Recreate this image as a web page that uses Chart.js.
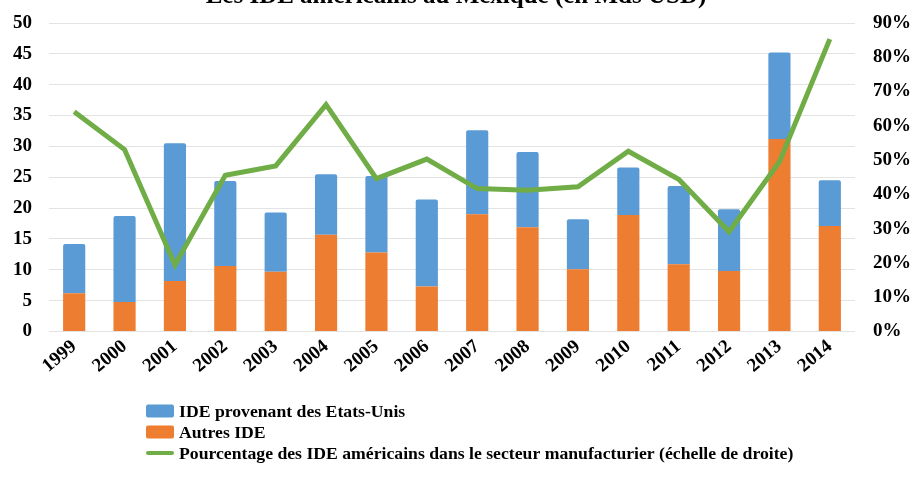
<!DOCTYPE html>
<html>
<head>
<meta charset="utf-8">
<script src="https://cdn.jsdelivr.net/npm/chart.js@4.4.1/dist/chart.umd.min.js"></script>
<style>
  html, body { margin: 0; padding: 0; background: #ffffff; overflow: hidden; }
  #wrap { position: absolute; left: 0; top: -13px; width: 912px; height: 490px; }
</style>
</head>
<body>
<div id="wrap"><canvas id="c"></canvas></div>
<script>
const years = ['1999','2000','2001','2002','2003','2004','2005','2006','2007','2008','2009','2010','2011','2012','2013','2014'];
const autresIDE = [6.2, 4.8, 8.2, 10.6, 9.7, 15.7, 12.8, 7.3, 19.0, 16.9, 10.1, 18.9, 10.9, 9.8, 31.2, 17.1];
const ideEtatsUnis = [8.0, 13.9, 22.3, 13.8, 9.6, 9.8, 12.4, 14.1, 13.6, 12.2, 8.1, 7.7, 12.7, 10.0, 14.0, 7.4];
const pctManufacturier = [64.1, 53.1, 19.4, 45.6, 48.3, 66.2, 44.6, 50.3, 41.7, 41.2, 42.2, 52.6, 44.4, 29.1, 49.5, 85.3];
const leftTicks = [0, 5, 10, 15, 20, 25, 30, 35, 40, 45, 50];
const rightTicks = [0, 10, 20, 30, 40, 50, 60, 70, 80, 90];
const titleText = 'Les IDE américains au Mexique (en Mds USD)';
const legendLabels = [
  'IDE provenant des Etats-Unis',
  'Autres IDE',
  'Pourcentage des IDE américains dans le secteur manufacturier (échelle de droite)'
];

const BLUE = '#5B9BD5', ORANGE = '#ED7D31', GREEN = '#70AD47';
const FONT = "'Liberation Serif', 'Times New Roman', serif";

const legendPlugin = {
  id: 'vertLegend',
  afterDraw(chart) {
    const ctx = chart.ctx;
    const items = [
      { text: legendLabels[0], color: BLUE, type: 'box' },
      { text: legendLabels[1], color: ORANGE, type: 'box' },
      { text: legendLabels[2], color: GREEN, type: 'line' }
    ];
    const x0 = 146, boxW = 28, boxH = 13;
    const ys = [chart.chartArea.bottom + 79.5, chart.chartArea.bottom + 100.5, chart.chartArea.bottom + 121.5];
    ctx.save();
    ctx.font = 'bold 17.7px ' + FONT;
    ctx.textBaseline = 'middle';
    ctx.textAlign = 'left';
    items.forEach((it, i) => {
      const y = ys[i];
      ctx.fillStyle = it.color;
      if (it.type === 'box') {
        ctx.beginPath();
        ctx.roundRect(x0, y - boxH / 2, boxW, boxH, 2);
        ctx.fill();
      } else {
        ctx.beginPath();
        ctx.roundRect(x0, y - 2, boxW, 4, 2);
        ctx.fill();
      }
      ctx.fillStyle = '#000000';
      ctx.fillText(it.text, x0 + boxW + 5, y + 1);
    });
    ctx.restore();
  }
};

new Chart(document.getElementById('c'), {
  data: {
    labels: years,
    datasets: [
      {
        type: 'line',
        label: legendLabels[2],
        data: pctManufacturier,
        yAxisID: 'y1',
        borderColor: GREEN,
        backgroundColor: GREEN,
        borderWidth: 5,
        pointRadius: 0,
        tension: 0,
        order: 0
      },
      {
        type: 'bar',
        label: legendLabels[1],
        data: autresIDE,
        yAxisID: 'y',
        backgroundColor: ORANGE,
        stack: 's',
        categoryPercentage: 1,
        barPercentage: 0.44,
        order: 1
      },
      {
        type: 'bar',
        label: legendLabels[0],
        data: ideEtatsUnis,
        yAxisID: 'y',
        backgroundColor: BLUE,
        stack: 's',
        categoryPercentage: 1,
        barPercentage: 0.44,
        borderRadius: { topLeft: 2, topRight: 2 },
        borderSkipped: 'bottom',
        order: 1
      }
    ]
  },
  options: {
    responsive: true,
    maintainAspectRatio: false,
    animation: false,
    layout: { padding: 0 },
    plugins: {
      legend: { display: false },
      tooltip: { enabled: false },
      title: {
        display: true,
        text: titleText,
        color: '#000000',
        font: { family: FONT, size: 25, weight: 'bold', lineHeight: 0.768 },
        padding: { top: 0, bottom: 16.8 }
      }
    },
    scales: {
      x: {
        stacked: true,
        grid: { display: false, drawTicks: false },
        border: { display: false },
        ticks: {
          color: '#000000',
          font: { family: FONT, size: 19, weight: 'bold' },
          minRotation: 40,
          maxRotation: 40,
          padding: 4,
          autoSkip: false
        },
        afterFit(scale) { scale.height = 145.5; }
      },
      y: {
        stacked: true,
        position: 'left',
        min: leftTicks[0],
        max: leftTicks[leftTicks.length - 1],
        afterBuildTicks(scale) { scale.ticks = leftTicks.map(v => ({ value: v })); },
        grid: { color: '#E3E3E3', lineWidth: 1, drawTicks: false },
        border: { display: false },
        ticks: {
          color: '#000000',
          font: { family: FONT, size: 19, weight: 'bold' },
          padding: 17
        },
        afterFit(scale) { scale.width = 49; }
      },
      y1: {
        position: 'right',
        min: rightTicks[0],
        max: rightTicks[rightTicks.length - 1],
        afterBuildTicks(scale) { scale.ticks = rightTicks.map(v => ({ value: v })); },
        grid: { display: false, drawTicks: false },
        border: { display: false },
        ticks: {
          color: '#000000',
          font: { family: FONT, size: 19, weight: 'bold' },
          padding: 18,
          callback: v => v + '%'
        },
        afterFit(scale) { scale.width = 57; }
      }
    }
  },
  plugins: [legendPlugin]
});
</script>
</body>
</html>
